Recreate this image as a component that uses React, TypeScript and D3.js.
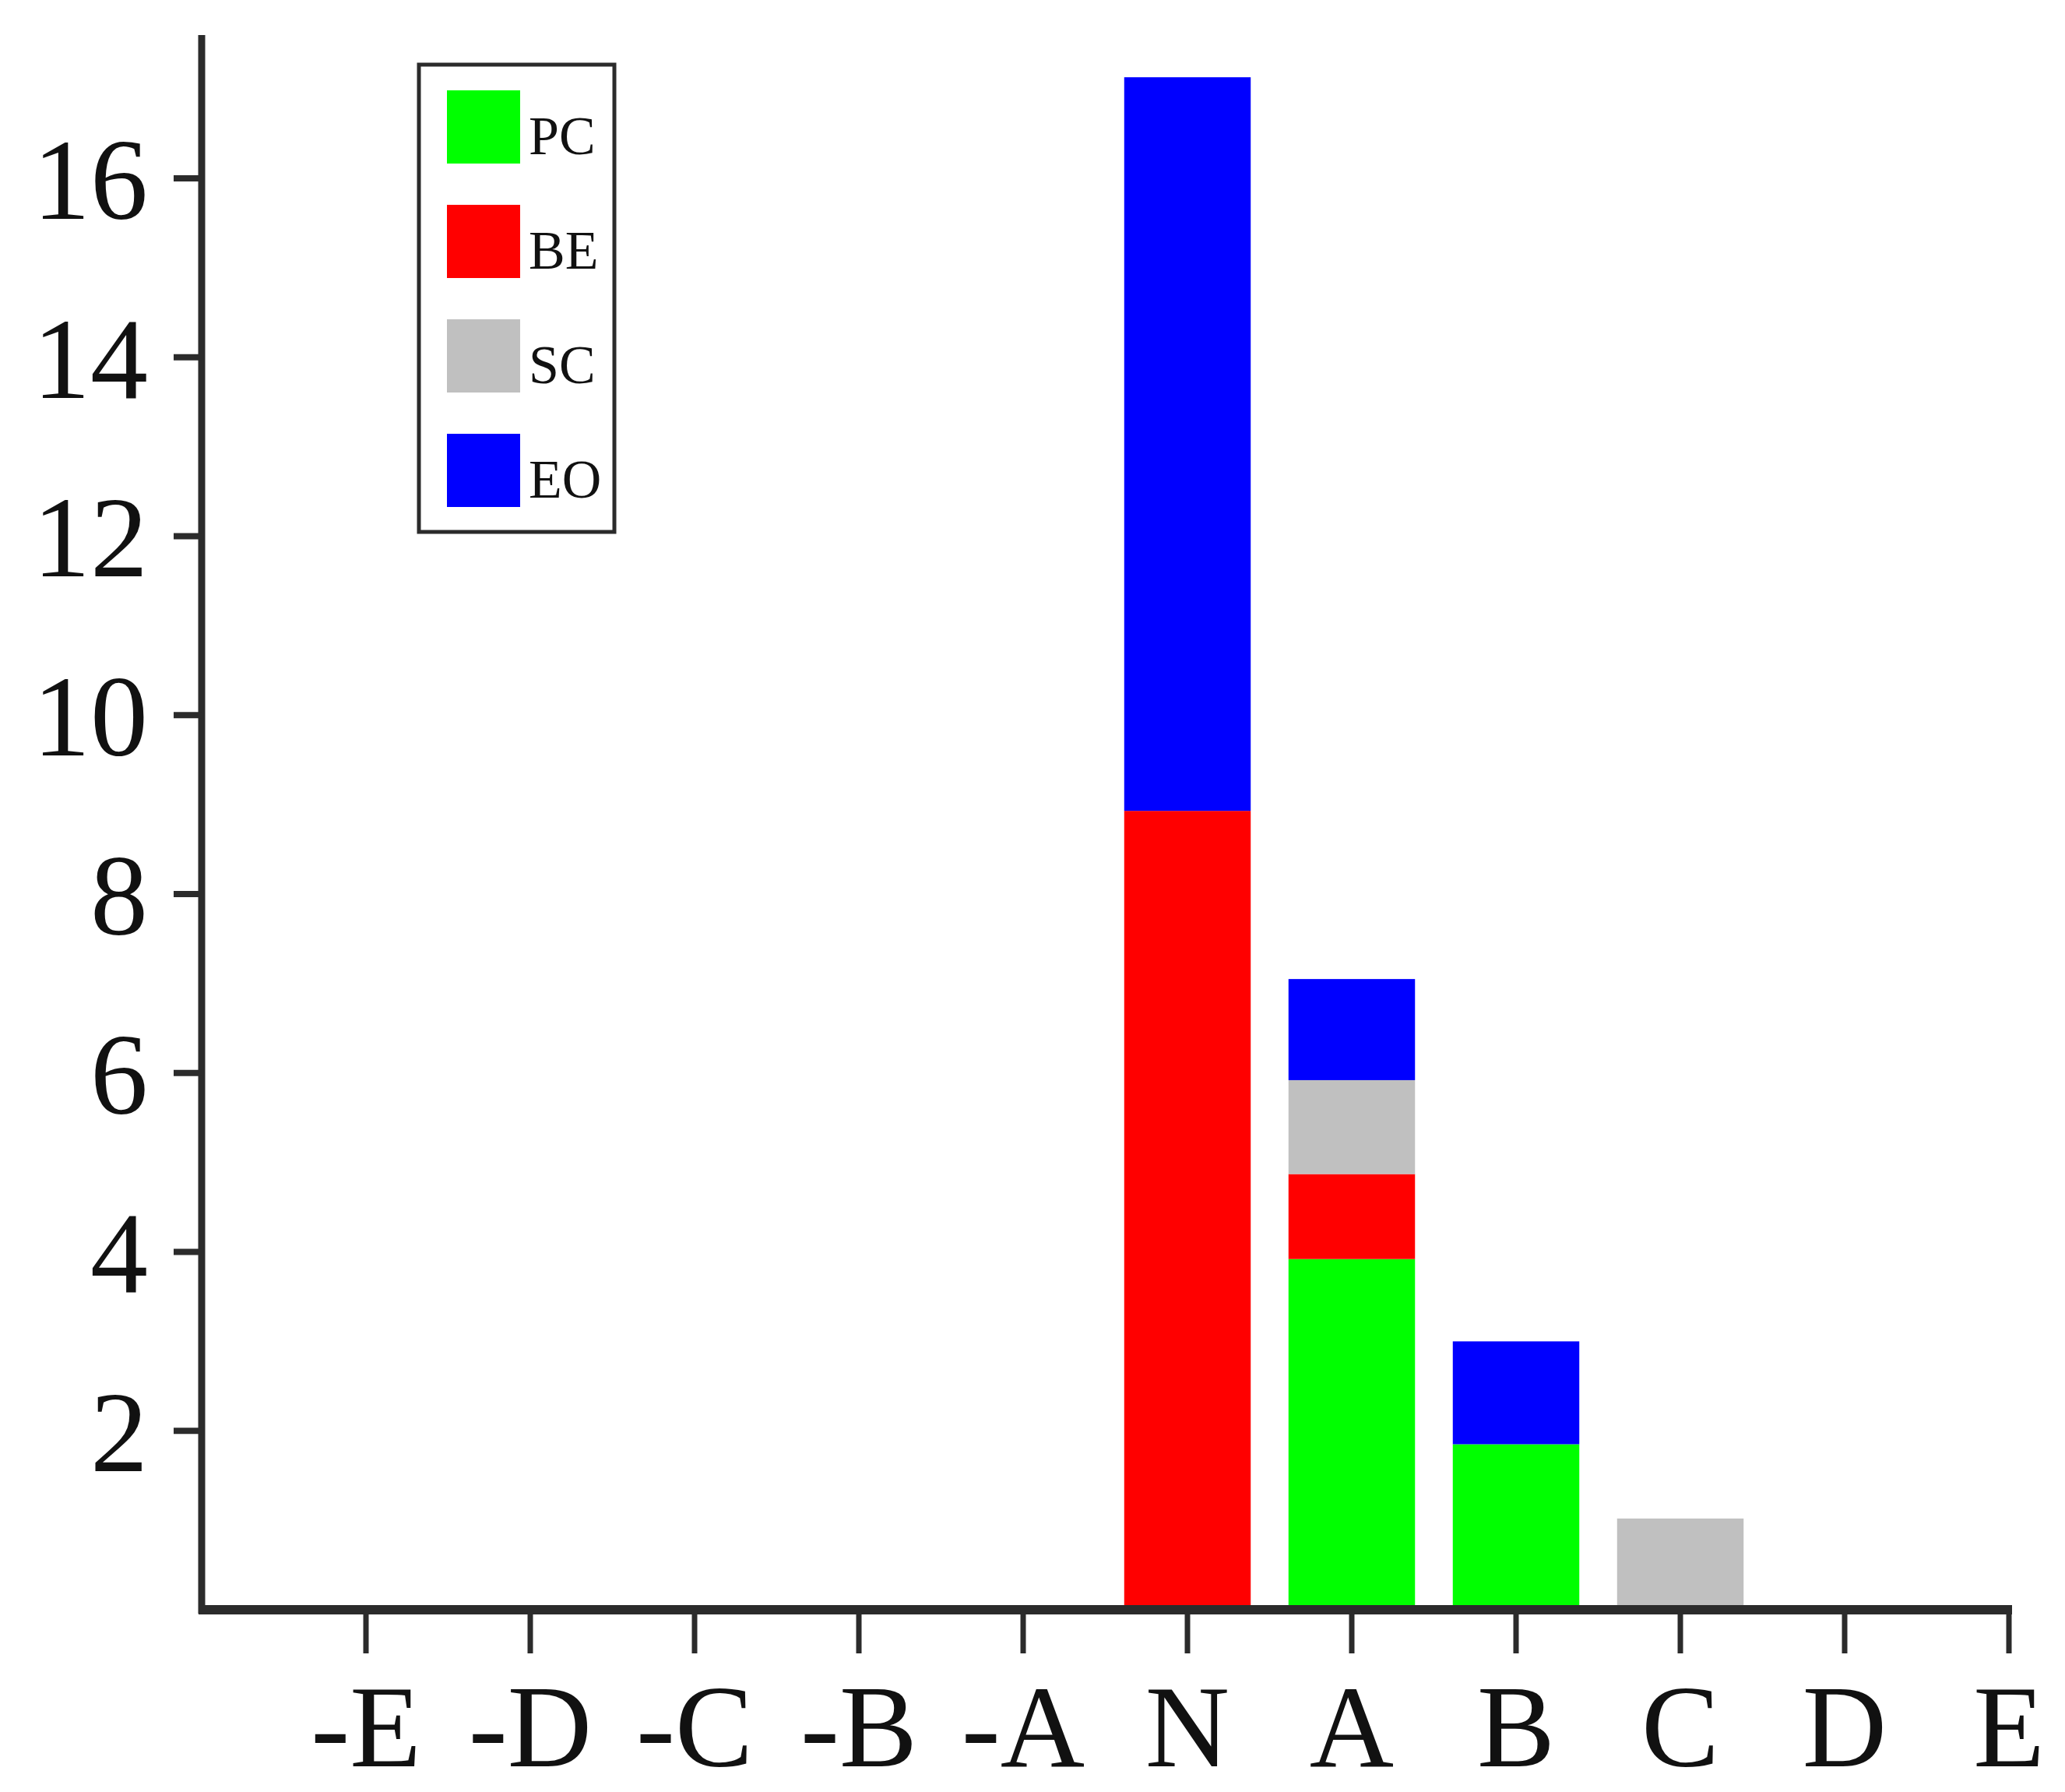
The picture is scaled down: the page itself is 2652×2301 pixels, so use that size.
import React from "react";
import * as d3 from "d3";

const categories = ["-E", "-D", "-C", "-B", "-A", "N", "A", "B", "C", "D", "E"];
const seriesKeys = ["PC", "BE", "SC", "EO"];
const PC = [0, 0, 0, 0, 0, 0, 3.92, 1.85, 0, 0, 0];
const BE = [0, 0, 0, 0, 0, 8.93, 0.95, 0, 0, 0, 0];
const SC = [0, 0, 0, 0, 0, 0, 1.05, 0, 1.02, 0, 0];
const EO = [0, 0, 0, 0, 0, 8.2, 1.13, 1.15, 0, 0, 0];
const yTicks = [2, 4, 6, 8, 10, 12, 14, 16];
const colors: Record<string, string> = { PC: "#00ff00", BE: "#ff0000", SC: "#c0c0c0", EO: "#0000ff" };

const W = 2652;
const H = 2301;
const X0 = 259;
const X1 = 2580;
const Y0 = 2067;
const Y16 = 229;
const AXIS = "#2b2b2b";
const FONT = "'Liberation Serif', 'DejaVu Serif', serif";

export default function App() {
  const x = d3.scaleLinear().domain([0, categories.length]).range([X0, X1]);
  const y = d3.scaleLinear().domain([0, 16]).range([Y0, Y16]);
  const step = x(1) - x(0);
  const bw = step * 0.77;

  const rows = categories.map((c, i) => ({ cat: c, PC: PC[i], BE: BE[i], SC: SC[i], EO: EO[i] }));
  const stacked = d3.stack<any>().keys(seriesKeys)(rows);

  const legX = 538, legY = 83, legW = 251, legH = 600;
  const swX = 574, swSize = 94, swY0 = 116, swStep = 147;

  return (
    <svg width={W} height={H} style={{ position: "absolute", left: 0, top: 0, background: "#fff" }}>
      <rect x={0} y={0} width={W} height={H} fill="#fff" />
      {stacked.map((s) => (
        <g key={s.key}>
          {s.map((d, i) =>
            d[1] - d[0] > 0 ? (
              <rect
                key={i}
                x={x(i + 1) - bw / 2}
                y={y(d[1])}
                width={bw}
                height={y(d[0]) - y(d[1])}
                fill={colors[s.key]}
              />
            ) : null
          )}
        </g>
      ))}
      {/* y axis */}
      <line x1={X0} x2={X0} y1={45} y2={Y0 + 5} stroke={AXIS} strokeWidth={9} />
      {yTicks.map((t) => (
        <g key={t}>
          <line x1={X0 - 36} x2={X0} y1={y(t)} y2={y(t)} stroke={AXIS} strokeWidth={8} />
          <text x={190} y={y(t)} dy="0.35em" textAnchor="end" fontFamily={FONT} fontSize={148} fill="#111">
            {t}
          </text>
        </g>
      ))}
      {/* x axis */}
      <line x1={X0 - 4} x2={X1 + 4} y1={Y0} y2={Y0} stroke={AXIS} strokeWidth={12} />
      {categories.map((c, i) => (
        <g key={c}>
          <line x1={x(i + 1)} x2={x(i + 1)} y1={Y0} y2={Y0 + 56} stroke={AXIS} strokeWidth={7} />
          <text x={x(i + 1)} y={2268} textAnchor="middle" fontFamily={FONT} fontSize={150} fill="#111">
            {c}
          </text>
        </g>
      ))}
      {/* legend */}
      <rect x={legX} y={legY} width={legW} height={legH} fill="#fff" stroke={AXIS} strokeWidth={5} />
      {seriesKeys.map((k, i) => (
        <g key={k}>
          <rect x={swX} y={swY0 + i * swStep} width={swSize} height={swSize} fill={colors[k]} />
          <text x={679} y={swY0 + i * swStep + 82} fontFamily={FONT} fontSize={70} fill="#111">
            {k}
          </text>
        </g>
      ))}
    </svg>
  );
}
